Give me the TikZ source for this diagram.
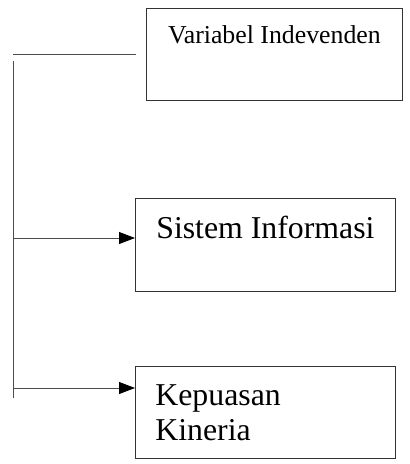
\documentclass[tikz,border=0pt]{standalone}
\usepackage{fontspec}
\setmainfont{Liberation Serif}
\usetikzlibrary{arrows.meta}
\tikzstyle{varbox}=[draw=black!80,line width=0.8pt,rectangle,inner sep=0pt]
\tikzstyle{link}=[draw=black!70,line width=0.8pt]

\begin{document}
\begin{tikzpicture}[x=1pt,y=-1pt,>={Triangle[length=16pt,width=12pt,black]}]
    \useasboundingbox (0,0) rectangle (410,464);
    \tikzstyle{arrowlink}=[link,->,shorten >=0pt]
    % boxes
    \node[varbox,anchor=north west,minimum width=256pt,text height=35pt,text depth=57pt,
          font=\fontsize{25.8}{30}\selectfont] (indep) at (146,8) {Variabel Indevenden};
    \node[varbox,anchor=north west,minimum width=260pt,text height=40pt,text depth=53pt,
          font=\fontsize{31.8}{35}\selectfont] (sisinfo) at (135,198) {Sistem Informasi};
    \node[varbox,anchor=north west,minimum width=260pt,text height=39pt,text depth=53pt,
          font=\fontsize{31.8}{35}\selectfont] (kepuasan) at (135,366)
          {\parbox[t]{220pt}{\raggedright Kepuasan\\Kineria}};
    % lines
    \coordinate (t1) at (13,54);
    \coordinate (t2) at (136,54);
    \coordinate (v1) at (13,61);
    \coordinate (v2) at (13,398);
    \coordinate (j2) at (13,238);
    \coordinate (j3) at (13,388);
    \draw[link] (t1) -- (t2);
    \draw[link] (v1) -- (v2);
    \draw[arrowlink] (j2) -- (j2 -| sisinfo.west);
    \draw[arrowlink] (j3) -- (j3 -| kepuasan.west);
\end{tikzpicture}
\end{document}
